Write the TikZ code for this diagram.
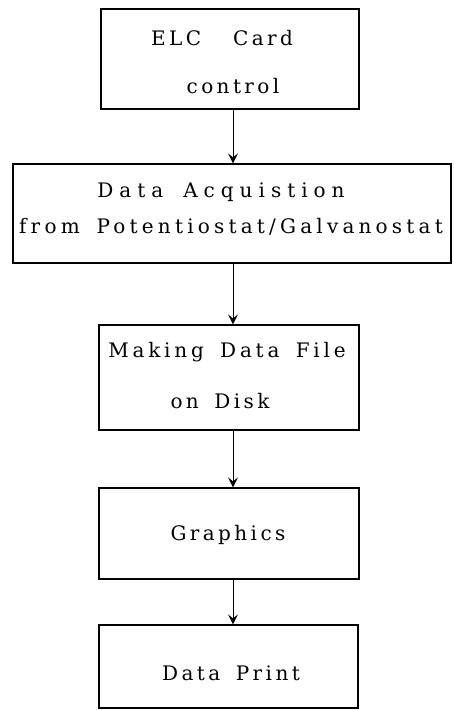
\documentclass[tikz,border=0pt]{standalone}
\usepackage{fontspec}
\setmainfont{DejaVu Serif}[LetterSpace=17,WordSpace=1.6]
\usetikzlibrary{arrows.meta}
\begin{document}
\begin{tikzpicture}[x=1pt,y=-1pt,
  box/.style={draw, line width=1.2pt, inner sep=0pt},
  lbl/.style={anchor=base, inner sep=0pt, font=\fontsize{20}{24}\selectfont},
  arr/.style={-{Stealth[length=10pt,width=10pt,inset=4pt]}, line width=0.9pt}]
\useasboundingbox (0,0) rectangle (454,710);
\node[box, minimum width=258pt, minimum height=100pt] (b1) at (230,59) {};
\node[box, minimum width=438pt, minimum height=99pt] (b2) at (232,213.5) {};
\node[box, minimum width=260pt, minimum height=105pt] (b3) at (229,377.5) {};
\node[box, minimum width=260pt, minimum height=91pt] (b4) at (229,533.5) {};
\node[box, minimum width=259pt, minimum height=83pt] (b5) at (228.5,666.5) {};
\node[lbl] (t1a) at (222,45) {ELC\hspace{32pt}Card};
\node[lbl] (t1b) at (233,93) {control};
\node[lbl] (t2a) at (221,197) {\addfontfeature{LetterSpace=30}Data\hspace{20pt}Acquistion};
\node[lbl] (t2b) at (231,233) {\addfontfeature{LetterSpace=21}from Potentiostat/Galvanostat};
\node[lbl] (t3a) at (227,357) {\addfontfeature{LetterSpace=19}Making Data File};
\node[lbl] (t3b) at (220,408) {on Disk};
\node[lbl] (t4) at (228,540) {Graphics};
\node[lbl] (t5) at (231,680) {Data Print};
\coordinate (ax) at (233,0);
\draw[arr] (b1.south -| ax) -- (b2.north -| ax);
\draw[arr] (b2.south -| ax) -- (b3.north -| ax);
\draw[arr] (b3.south -| ax) -- (b4.north -| ax);
\draw[arr] (b4.south -| ax) -- (b5.north -| ax);
\end{tikzpicture}
\end{document}
